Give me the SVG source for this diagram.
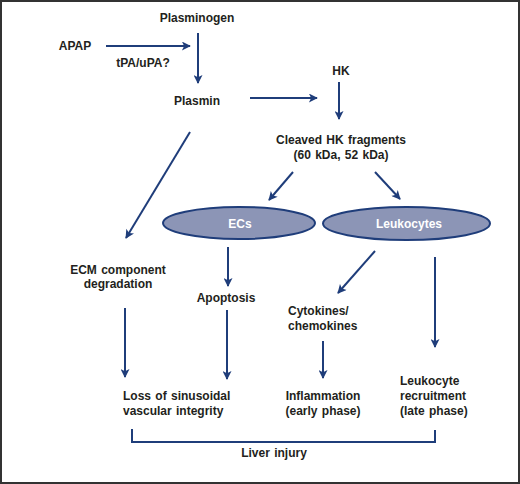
<svg xmlns="http://www.w3.org/2000/svg" width="520" height="484" viewBox="0 0 520 484">
<style>
text{font-family:"Liberation Sans",Arial,sans-serif;font-weight:bold;font-size:12px;fill:#231f20;word-spacing:1px}
.c{text-anchor:middle}
.w{fill:#ffffff}
.ln{stroke:#1f3d7a;stroke-width:2;fill:none}
.el{fill:#8c95b6;stroke:#1f3d7a;stroke-width:2}
</style>
<defs>
<marker id="ah" viewBox="0 0 10 10" refX="9" refY="5" markerWidth="5" markerHeight="4.5" orient="auto" markerUnits="strokeWidth">
<path d="M0,0 L10,5 L0,10 L2.5,5 Z" fill="#1f3d7a"/>
</marker>
</defs>
<rect x="1" y="1" width="518" height="482" fill="#ffffff" stroke="#333333" stroke-width="2"/>
<g id="connectors">
<line class="ln" x1="106" y1="46" x2="190" y2="46" marker-end="url(#ah)"/>
<line class="ln" x1="198" y1="33" x2="198" y2="83" marker-end="url(#ah)"/>
<line class="ln" x1="250" y1="98" x2="317" y2="98" marker-end="url(#ah)"/>
<line class="ln" x1="339" y1="82" x2="339" y2="119" marker-end="url(#ah)"/>
<line class="ln" x1="190" y1="132" x2="126" y2="238" marker-end="url(#ah)"/>
<line class="ln" x1="293" y1="172" x2="269" y2="200" marker-end="url(#ah)"/>
<line class="ln" x1="375" y1="172" x2="400" y2="199" marker-end="url(#ah)"/>
<line class="ln" x1="228" y1="247" x2="228" y2="286" marker-end="url(#ah)"/>
<line class="ln" x1="375" y1="251" x2="338" y2="293" marker-end="url(#ah)"/>
<line class="ln" x1="435" y1="257" x2="435" y2="347" marker-end="url(#ah)"/>
<line class="ln" x1="125" y1="308" x2="125" y2="377" marker-end="url(#ah)"/>
<line class="ln" x1="227" y1="310" x2="227" y2="379" marker-end="url(#ah)"/>
<line class="ln" x1="323" y1="341" x2="323" y2="378" marker-end="url(#ah)"/>
<path class="ln" d="M132,429 V442 H435 V430"/>
</g>
<g id="plasminogen"><text class="c" x="197" y="21.5">Plasminogen</text></g>
<g id="apap"><text class="c" x="75" y="50">APAP</text></g>
<g id="tpa"><text class="c" x="143" y="67">tPA/uPA?</text></g>
<g id="plasmin"><text class="c" x="197" y="105">Plasmin</text></g>
<g id="hk"><text class="c" x="341" y="75">HK</text></g>
<g id="cleaved"><text class="c" x="341" y="144">Cleaved HK fragments</text><text class="c" x="341" y="158.5">(60 kDa, 52 kDa)</text></g>
<g id="ecs"><ellipse class="el" cx="239" cy="223" rx="76" ry="16"/><text class="c w" x="240" y="227.5">ECs</text></g>
<g id="leukocytes"><ellipse class="el" cx="406.5" cy="223.5" rx="83.5" ry="16.5"/><text class="c w" x="409" y="227.5">Leukocytes</text></g>
<g id="ecm"><text class="c" x="118" y="273.5">ECM component</text><text class="c" x="118" y="288">degradation</text></g>
<g id="apoptosis"><text class="c" x="226" y="302">Apoptosis</text></g>
<g id="cytokines"><text x="288" y="315">Cytokines/</text><text x="288" y="329.5">chemokines</text></g>
<g id="loss"><text x="123" y="400">Loss of sinusoidal</text><text x="123" y="414.5">vascular integrity</text></g>
<g id="inflammation"><text class="c" x="323" y="400">Inflammation</text><text class="c" x="323" y="414.5">(early phase)</text></g>
<g id="recruitment"><text x="400" y="385">Leukocyte</text><text x="400" y="400">recruitment</text><text x="400" y="414.5">(late phase)</text></g>
<g id="liver"><text class="c" x="274" y="457">Liver injury</text></g>
</svg>
